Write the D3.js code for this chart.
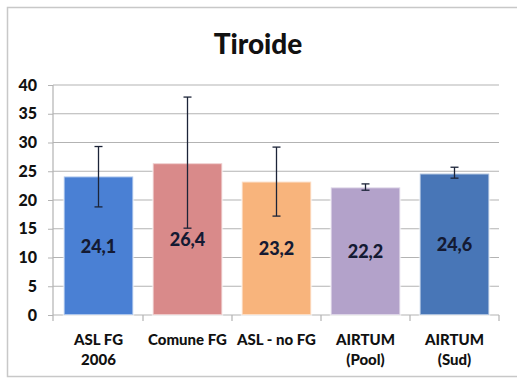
<!DOCTYPE html>
<html><head><meta charset="utf-8">
<script src="https://cdn.jsdelivr.net/npm/d3@7"></script>
<style>body{margin:0;background:#fff;}svg{display:block;font-family:Lato,"Open Sans",sans-serif;}</style>
</head><body><svg id="c" width="517" height="379"></svg>
<script>
const categories = [["ASL FG","2006"],["Comune FG"],["ASL - no FG"],["AIRTUM","(Pool)"],["AIRTUM","(Sud)"]];
const values = [24.1, 26.4, 23.2, 22.2, 24.6];
const errLow = [18.8, 15.1, 17.2, 21.7, 23.8];
const errHigh = [29.3, 37.9, 29.2, 22.8, 25.7];
const valueLabels = ["24,1","26,4","23,2","22,2","24,6"];
const yTicks = [0,5,10,15,20,25,30,35,40];
const colors = ["#4a80d4","#d98a8a","#f8b47c","#b3a2ca","#4876b7"];

const svg = d3.select("#c");
svg.append("rect").attr("x",7.5).attr("y",7.5).attr("width",520).attr("height",369)
  .attr("fill","#fff").attr("stroke","#c8c8c8").attr("stroke-width",1.5);

const L=53, R=499, T=85, B=315;
const x = d3.scaleBand().domain(d3.range(values.length)).range([L+1,R]).paddingInner(0.22).paddingOuter(0.11);
const y = d3.scaleLinear().domain([0,40]).range([B,T]);

svg.append("text").attr("x",258).attr("y",54).attr("text-anchor","middle")
  .attr("font-size",28).attr("font-weight",900).attr("fill","#111").text("Tiroide");

// gridlines
svg.append("g").selectAll("line").data(yTicks.filter(d=>d>0)).join("line")
  .attr("x1",L).attr("x2",R).attr("y1",d=>y(d)).attr("y2",d=>y(d))
  .attr("stroke","#b3b3b3").attr("stroke-width",1.2);

// y axis
const ya = svg.append("g").attr("transform",`translate(${L},0)`)
  .call(d3.axisLeft(y).tickValues(yTicks).tickSize(5).tickPadding(11).tickFormat(d3.format("d")));
ya.select(".domain").attr("stroke","#b3b3b3").attr("stroke-width",1.2).attr("d",`M0,${T}V${B}`);
ya.selectAll(".tick line").attr("stroke","#b3b3b3");
ya.selectAll(".tick text").attr("font-size",16).attr("font-weight",900).attr("fill","#111").attr("font-family","Lato");

// x axis line and ticks
svg.append("line").attr("x1",L).attr("x2",R).attr("y1",B).attr("y2",B).attr("stroke","#b3b3b3").attr("stroke-width",1.2);
const bounds = d3.range(values.length+1).map(i=> i===0?L:(i===values.length?R:(x(i-1)+x.bandwidth()+x(i))/2));
svg.append("g").selectAll("line").data(bounds).join("line")
  .attr("x1",d=>d).attr("x2",d=>d).attr("y1",B).attr("y2",B+6).attr("stroke","#b3b3b3").attr("stroke-width",1.2);

// bars
svg.append("g").selectAll("rect").data(values).join("rect")
  .attr("x",(d,i)=>x(i)).attr("width",x.bandwidth())
  .attr("y",d=>y(d)).attr("height",d=>B-y(d))
  .attr("fill",(d,i)=>colors[i]).attr("stroke","rgba(255,255,255,0.55)").attr("stroke-width",2);

// error bars
const eg = svg.append("g").attr("stroke","#1c2438").attr("stroke-width",1.3);
values.forEach((v,i)=>{
  const cx = x(i)+x.bandwidth()/2;
  eg.append("line").attr("x1",cx).attr("x2",cx).attr("y1",y(errLow[i])).attr("y2",y(errHigh[i]));
  [errLow[i],errHigh[i]].forEach(e=>eg.append("line").attr("x1",cx-4).attr("x2",cx+4).attr("y1",y(e)).attr("y2",y(e)));
});

// value labels
svg.append("g").selectAll("text").data(values).join("text")
  .attr("x",(d,i)=>x(i)+x.bandwidth()/2).attr("y",d=>y(d/2)+7)
  .attr("text-anchor","middle").attr("font-size",18).attr("font-weight",900).attr("fill","#141a33")
  .text((d,i)=>valueLabels[i]);

// category labels
const cl = svg.append("g");
categories.forEach((lines,i)=>{
  const t = cl.append("text").attr("x",x(i)+x.bandwidth()/2).attr("y",345)
    .attr("text-anchor","middle").attr("font-size",15).attr("font-weight",900).attr("fill","#111");
  lines.forEach((s,j)=>t.append("tspan").attr("x",x(i)+x.bandwidth()/2).attr("dy",j===0?0:20).text(s));
});
</script></body></html>
